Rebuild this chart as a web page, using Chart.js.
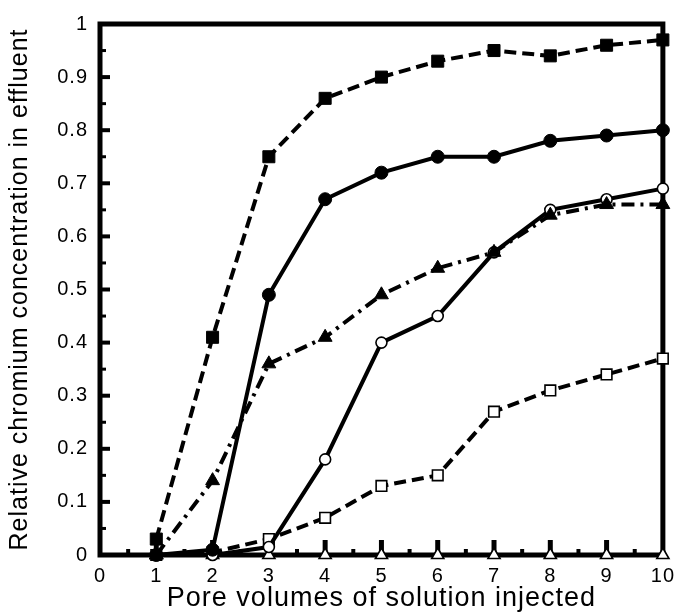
<!DOCTYPE html>
<html>
<head>
<meta charset="utf-8">
<script src="https://cdn.jsdelivr.net/npm/chart.js@4"></script>
<style>
  html, body { margin:0; padding:0; background:#fff; }
  #wrap { width:683px; height:613px; }
</style>
</head>
<body>
<div id="wrap"><canvas id="c" width="683" height="613"></canvas></div>
<script>
// Cr breakthrough curves
const poreVolumes = [1, 2, 3, 4, 5, 6, 7, 8, 9, 10];
const filledSquares   = [0.03, 0.41, 0.75, 0.86, 0.90, 0.93, 0.95, 0.94, 0.96, 0.97];
const filledCircles   = [0, 0.01, 0.49, 0.67, 0.72, 0.75, 0.75, 0.78, 0.79, 0.80];
const filledTriangles = [0, 0.14, 0.36, 0.41, 0.49, 0.54, 0.57, 0.64, 0.66, 0.66];
const openCircles     = [0, 0, 0.015, 0.18, 0.40, 0.45, 0.57, 0.65, 0.67, 0.69];
const openSquares     = [0, 0.005, 0.03, 0.07, 0.13, 0.15, 0.27, 0.31, 0.34, 0.37];
const openTriangles   = [0, 0, 0, 0, 0, 0, 0, 0, 0, 0];
const xTicks = [0, 1, 2, 3, 4, 5, 6, 7, 8, 9, 10];
const yTicks = [0, 0.1, 0.2, 0.3, 0.4, 0.5, 0.6, 0.7, 0.8, 0.9, 1];

const FONT = '"Liberation Sans", Arial, Helvetica, sans-serif';
const pts = arr => poreVolumes.map((x, i) => ({ x, y: arr[i] }));

function ds(data, style, radius, filled, dash) {
  return {
    data: pts(data), pointStyle: style, pointRadius: radius, pointHoverRadius: radius,
    backgroundColor: filled ? '#000' : '#fff', borderColor: '#000',
    pointBorderWidth: filled ? 1 : 1.6, borderWidth: 4, borderDash: dash || [],
    showLine: true, tension: 0, clip: false
  };
}

// old Helvetica in the scan is set loose; widen the text a bit
const spacing = {
  id: 'spacing',
  beforeDraw(chart) { if ('letterSpacing' in chart.ctx) chart.ctx.letterSpacing = '1px'; }
};

// box + inward tick marks, drawn from the scales
const frame = {
  id: 'frame',
  beforeDatasetsDraw(chart) {
    const { ctx, chartArea: a, scales: { x, y } } = chart;
    ctx.save();
    ctx.strokeStyle = '#000';
    ctx.lineCap = 'butt';
    for (let i = 1; i < 20; i++) {
      const v = i / 20, py = y.getPixelForValue(v), major = i % 2 === 0;
      ctx.lineWidth = major ? 4 : 3;
      ctx.beginPath(); ctx.moveTo(a.left, py); ctx.lineTo(a.left + (major ? 10 : 6), py); ctx.stroke();
    }
    for (let i = 1; i < 20; i++) {
      const v = i / 2, px = x.getPixelForValue(v), major = i % 2 === 0;
      ctx.lineWidth = major ? 5 : 4;
      ctx.beginPath(); ctx.moveTo(px, a.bottom); ctx.lineTo(px, a.bottom - (major ? 15 : 6)); ctx.stroke();
    }
    ctx.lineWidth = 5;
    ctx.strokeRect(a.left, a.top, a.right - a.left, a.bottom - a.top);
    ctx.restore();
  }
};

new Chart(document.getElementById('c'), {
  type: 'line',
  data: {
    datasets: [
      ds(filledSquares, 'rect', 8.5, true, [12, 6]),
      ds(filledCircles, 'circle', 6.5, true),
      ds(filledTriangles, 'triangle', 8, true, [13, 6, 3, 6]),
      ds(openCircles, 'circle', 5.5, false),
      ds(openSquares, 'rect', 7.5, false, [12, 6]),
      ds(openTriangles, 'triangle', 7, false)
    ]
  },
  options: {
    responsive: false, animation: false,
    layout: { padding: { left: 0, right: 14, top: 20, bottom: 0 } },
    plugins: { legend: { display: false }, tooltip: { enabled: false } },
    scales: {
      x: {
        type: 'linear', min: 0, max: 10,
        afterBuildTicks: s => { s.ticks = xTicks.map(v => ({ value: v })); },
        afterFit: s => { s.height = 58; },
        grid: { display: false, drawTicks: false }, border: { display: false },
        ticks: { color: '#000', padding: 9, maxRotation: 0, font: { family: FONT, size: 20 } },
        title: { display: true, text: 'Pore volumes of solution injected', color: '#000',
                 font: { family: FONT, size: 27, lineHeight: 1 }, padding: { top: 0, bottom: 1 } }
      },
      y: {
        min: 0, max: 1,
        afterBuildTicks: s => { s.ticks = yTicks.map(v => ({ value: v })); },
        afterFit: s => { s.width = 100; },
        grid: { display: false, drawTicks: false }, border: { display: false },
        ticks: { color: '#000', padding: 12, font: { family: FONT, size: 20 },
                 callback: v => String(Math.round(v * 10) / 10) },
        title: { display: true, text: 'Relative chromium concentration in effluent', color: '#000',
                 font: { family: FONT, size: 25, lineHeight: 1 }, padding: { top: 8, bottom: 0 } }
      }
    }
  },
  plugins: [spacing, frame]
});
</script>
</body>
</html>
